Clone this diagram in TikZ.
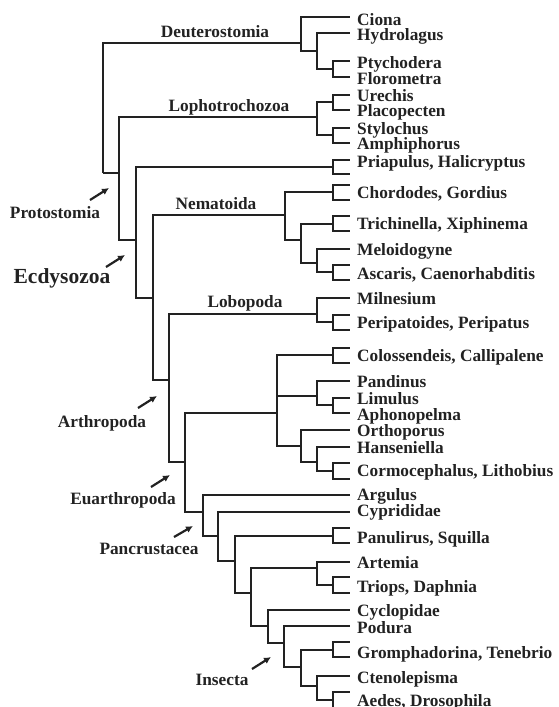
\documentclass[tikz,border=0pt]{standalone}
\usepackage{fontspec}
\setmainfont{Liberation Serif}
\usetikzlibrary{arrows.meta}
\definecolor{ink}{HTML}{222222}
\tikzset{
  tree/.style={line width=1.8pt, draw=ink, line join=miter},
  taxon/.style={font=\bfseries\fontsize{17.3}{18}\selectfont, text=ink, anchor=base west, inner sep=0pt},
  clade/.style={font=\bfseries\fontsize{17.3}{18}\selectfont, text=ink, anchor=base, inner sep=0pt},
  bigclade/.style={font=\bfseries\fontsize{21.5}{24}\selectfont, text=ink, anchor=base, inner sep=0pt},
  pointer/.style={draw=ink, line width=2.2pt, -{Latex[length=7pt,width=7pt]}}
}
\begin{document}
\begin{tikzpicture}[x=1pt,y=-1pt]
\useasboundingbox (0,0) rectangle (559,707);
\clip (0,0) rectangle (559,707);
% ---------- internal nodes ----------
\coordinate (root) at (103,173);
\coordinate (deut) at (301,43);
\coordinate (dA) at (317,51);
\coordinate (dB) at (333,69);
\coordinate (proto) at (119,173);
\coordinate (lopho) at (317,117);
\coordinate (lA) at (333,102);
\coordinate (lB) at (333,135);
\coordinate (ecdy) at (136,240);
\coordinate (priap) at (333,167);
\coordinate (N1) at (153,298);
\coordinate (nema) at (285,215);
\coordinate (chord) at (333,192);
\coordinate (nA) at (301,240);
\coordinate (trich) at (333,224);
\coordinate (nB) at (317,263);
\coordinate (asc) at (333,272);
\coordinate (N2) at (169,380);
\coordinate (lobo) at (317,314);
\coordinate (peri) at (333,322);
\coordinate (arthro) at (185,462);
\coordinate (cm) at (277,413);
\coordinate (pyc) at (333,355);
\coordinate (chel) at (317,396);
\coordinate (lim) at (333,405);
\coordinate (myr) at (301,446);
\coordinate (myrB) at (317,462);
\coordinate (corm) at (333,471);
\coordinate (euA) at (203,512);
\coordinate (panc) at (218,536);
\coordinate (pB) at (235,561);
\coordinate (panu) at (333,536);
\coordinate (pC) at (251,593);
\coordinate (branch) at (317,568);
\coordinate (triops) at (333,585);
\coordinate (pD) at (268,626);
\coordinate (ins) at (284,643);
\coordinate (iB) at (301,667);
\coordinate (grom) at (333,650);
\coordinate (iC) at (317,686);
\coordinate (aedes) at (333,700);
% ---------- tips ----------
\coordinate (tCiona) at (350,17);
\coordinate (tHydro) at (350,33);
\coordinate (tPtych) at (350,61);
\coordinate (tFloro) at (350,77);
\coordinate (tUrech) at (350,95);
\coordinate (tPlaco) at (350,110);
\coordinate (tStylo) at (350,128);
\coordinate (tAmphi) at (350,143);
\coordinate (tPriA) at (350,160);
\coordinate (tPriB) at (350,174);
\coordinate (tChoA) at (350,185);
\coordinate (tChoB) at (350,200);
\coordinate (tTriA) at (350,216);
\coordinate (tTriB) at (350,231);
\coordinate (tMelo) at (350,249);
\coordinate (tAscA) at (350,265);
\coordinate (tAscB) at (350,280);
\coordinate (tMiln) at (350,298);
\coordinate (tPerA) at (350,315);
\coordinate (tPerB) at (350,330);
\coordinate (tPycA) at (350,348);
\coordinate (tPycB) at (350,363);
\coordinate (tPand) at (350,381);
\coordinate (tLimu) at (350,398);
\coordinate (tApho) at (350,413);
\coordinate (tOrth) at (350,430);
\coordinate (tHans) at (350,447);
\coordinate (tCorA) at (350,463);
\coordinate (tCorB) at (350,479);
\coordinate (tArgu) at (350,495);
\coordinate (tCypr) at (350,512);
\coordinate (tPanA) at (350,528);
\coordinate (tPanB) at (350,543);
\coordinate (tArte) at (350,562);
\coordinate (tTrpA) at (350,577);
\coordinate (tTrpB) at (350,593);
\coordinate (tCycl) at (350,610);
\coordinate (tPodu) at (350,626);
\coordinate (tGroA) at (350,642);
\coordinate (tGroB) at (350,657);
\coordinate (tCten) at (350,676);
\coordinate (tAedA) at (350,692);
\coordinate (tAedB) at (350,708);
% ---------- branches ----------
\draw[tree] (root) |- (deut);
\draw[tree] (root) |- (proto);
\draw[tree] (deut) |- (tCiona);
\draw[tree] (deut) |- (dA);
\draw[tree] (dA) |- (tHydro);
\draw[tree] (dA) |- (dB);
\draw[tree] (dB) |- (tPtych);
\draw[tree] (dB) |- (tFloro);
\draw[tree] (proto) |- (lopho);
\draw[tree] (proto) |- (ecdy);
\draw[tree] (lopho) |- (lA);
\draw[tree] (lopho) |- (lB);
\draw[tree] (lA) |- (tUrech);
\draw[tree] (lA) |- (tPlaco);
\draw[tree] (lB) |- (tStylo);
\draw[tree] (lB) |- (tAmphi);
\draw[tree] (ecdy) |- (priap);
\draw[tree] (ecdy) |- (N1);
\draw[tree] (priap) |- (tPriA);
\draw[tree] (priap) |- (tPriB);
\draw[tree] (N1) |- (nema);
\draw[tree] (N1) |- (N2);
\draw[tree] (nema) |- (chord);
\draw[tree] (nema) |- (nA);
\draw[tree] (chord) |- (tChoA);
\draw[tree] (chord) |- (tChoB);
\draw[tree] (nA) |- (trich);
\draw[tree] (nA) |- (nB);
\draw[tree] (trich) |- (tTriA);
\draw[tree] (trich) |- (tTriB);
\draw[tree] (nB) |- (tMelo);
\draw[tree] (nB) |- (asc);
\draw[tree] (asc) |- (tAscA);
\draw[tree] (asc) |- (tAscB);
\draw[tree] (N2) |- (lobo);
\draw[tree] (N2) |- (arthro);
\draw[tree] (lobo) |- (tMiln);
\draw[tree] (lobo) |- (peri);
\draw[tree] (peri) |- (tPerA);
\draw[tree] (peri) |- (tPerB);
\draw[tree] (arthro) |- (cm);
\draw[tree] (arthro) |- (euA);
\draw[tree] (cm) |- (pyc);
\draw[tree] (cm) |- (chel);
\draw[tree] (cm) |- (myr);
\draw[tree] (pyc) |- (tPycA);
\draw[tree] (pyc) |- (tPycB);
\draw[tree] (chel) |- (tPand);
\draw[tree] (chel) |- (lim);
\draw[tree] (lim) |- (tLimu);
\draw[tree] (lim) |- (tApho);
\draw[tree] (myr) |- (tOrth);
\draw[tree] (myr) |- (myrB);
\draw[tree] (myrB) |- (tHans);
\draw[tree] (myrB) |- (corm);
\draw[tree] (corm) |- (tCorA);
\draw[tree] (corm) |- (tCorB);
\draw[tree] (euA) |- (tArgu);
\draw[tree] (euA) |- (panc);
\draw[tree] (panc) |- (tCypr);
\draw[tree] (panc) |- (pB);
\draw[tree] (pB) |- (panu);
\draw[tree] (pB) |- (pC);
\draw[tree] (panu) |- (tPanA);
\draw[tree] (panu) |- (tPanB);
\draw[tree] (pC) |- (branch);
\draw[tree] (pC) |- (pD);
\draw[tree] (branch) |- (tArte);
\draw[tree] (branch) |- (triops);
\draw[tree] (triops) |- (tTrpA);
\draw[tree] (triops) |- (tTrpB);
\draw[tree] (pD) |- (tCycl);
\draw[tree] (pD) |- (ins);
\draw[tree] (ins) |- (tPodu);
\draw[tree] (ins) |- (iB);
\draw[tree] (iB) |- (grom);
\draw[tree] (iB) |- (iC);
\draw[tree] (grom) |- (tGroA);
\draw[tree] (grom) |- (tGroB);
\draw[tree] (iC) |- (tCten);
\draw[tree] (iC) |- (aedes);
\draw[tree] (aedes) |- (tAedA);
\draw[tree] (aedes) |- (tAedB);
% ---------- taxon names ----------
\node[taxon] (Ciona) at (357,25) {Ciona};
\node[taxon] (Hydrolagus) at (357,40) {Hydrolagus};
\node[taxon] (Ptychodera) at (357,68) {Ptychodera};
\node[taxon] (Florometra) at (357,84) {Florometra};
\node[taxon] (Urechis) at (357,101) {Urechis};
\node[taxon] (Placopecten) at (357,116) {Placopecten};
\node[taxon] (Stylochus) at (357,134) {Stylochus};
\node[taxon] (Amphiphorus) at (357,149) {Amphiphorus};
\node[taxon] (Priapulus) at (357,167) {Priapulus, Halicryptus};
\node[taxon] (Chordodes) at (357,198) {Chordodes, Gordius};
\node[taxon] (Trichinella) at (357,229) {Trichinella, Xiphinema};
\node[taxon] (Meloidogyne) at (357,255) {Meloidogyne};
\node[taxon] (Ascaris) at (357,279) {Ascaris, Caenorhabditis};
\node[taxon] (Milnesium) at (357,304) {Milnesium};
\node[taxon] (Peripatoides) at (357,328) {Peripatoides, Peripatus};
\node[taxon] (Colossendeis) at (357,361) {Colossendeis, Callipalene};
\node[taxon] (Pandinus) at (357,387) {Pandinus};
\node[taxon] (Limulus) at (357,404) {Limulus};
\node[taxon] (Aphonopelma) at (357,420) {Aphonopelma};
\node[taxon] (Orthoporus) at (357,436) {Orthoporus};
\node[taxon] (Hanseniella) at (357,453) {Hanseniella};
\node[taxon] (Cormocephalus) at (357,476) {Cormocephalus, Lithobius};
\node[taxon] (Argulus) at (357,500) {Argulus};
\node[taxon] (Cyprididae) at (357,516) {Cyprididae};
\node[taxon] (Panulirus) at (357,543) {Panulirus, Squilla};
\node[taxon] (Artemia) at (357,568) {Artemia};
\node[taxon] (Triops) at (357,592) {Triops, Daphnia};
\node[taxon] (Cyclopidae) at (357,616) {Cyclopidae};
\node[taxon] (Podura) at (357,633) {Podura};
\node[taxon] (Gromphadorina) at (357,658) {Gromphadorina, Tenebrio};
\node[taxon] (Ctenolepisma) at (357,683) {Ctenolepisma};
\node[taxon] (Aedes) at (357,706) {Aedes, Drosophila};
% ---------- clade names ----------
\node[clade] (Ldeut) at (215,37) {Deuterostomia};
\node[clade] (Llopho) at (229,111) {Lophotrochozoa};
\node[clade] (Lproto) at (55,218) {Protostomia};
\node[bigclade] (Lecdy) at (62,283) {Ecdysozoa};
\node[clade] (Lnema) at (216,209) {Nematoida};
\node[clade] (Llobo) at (245,307) {Lobopoda};
\node[clade] (Larthro) at (102,427) {Arthropoda};
\node[clade] (Leuar) at (123,504) {Euarthropoda};
\node[clade] (Lpanc) at (149,554) {Pancrustacea};
\node[clade] (Lins) at (222,685) {Insecta};
% ---------- pointers ----------
\coordinate (p1s) at (90,200);  \coordinate (p1e) at (109,188);
\coordinate (p2s) at (106,267); \coordinate (p2e) at (125,255);
\coordinate (p3s) at (138,408); \coordinate (p3e) at (157,396);
\coordinate (p4s) at (151,487); \coordinate (p4e) at (170,475);
\coordinate (p5s) at (174,537); \coordinate (p5e) at (193,526);
\coordinate (p6s) at (252,669); \coordinate (p6e) at (271,657);
\draw[pointer] (p1s) -- (p1e);
\draw[pointer] (p2s) -- (p2e);
\draw[pointer] (p3s) -- (p3e);
\draw[pointer] (p4s) -- (p4e);
\draw[pointer] (p5s) -- (p5e);
\draw[pointer] (p6s) -- (p6e);
\end{tikzpicture}
\end{document}
